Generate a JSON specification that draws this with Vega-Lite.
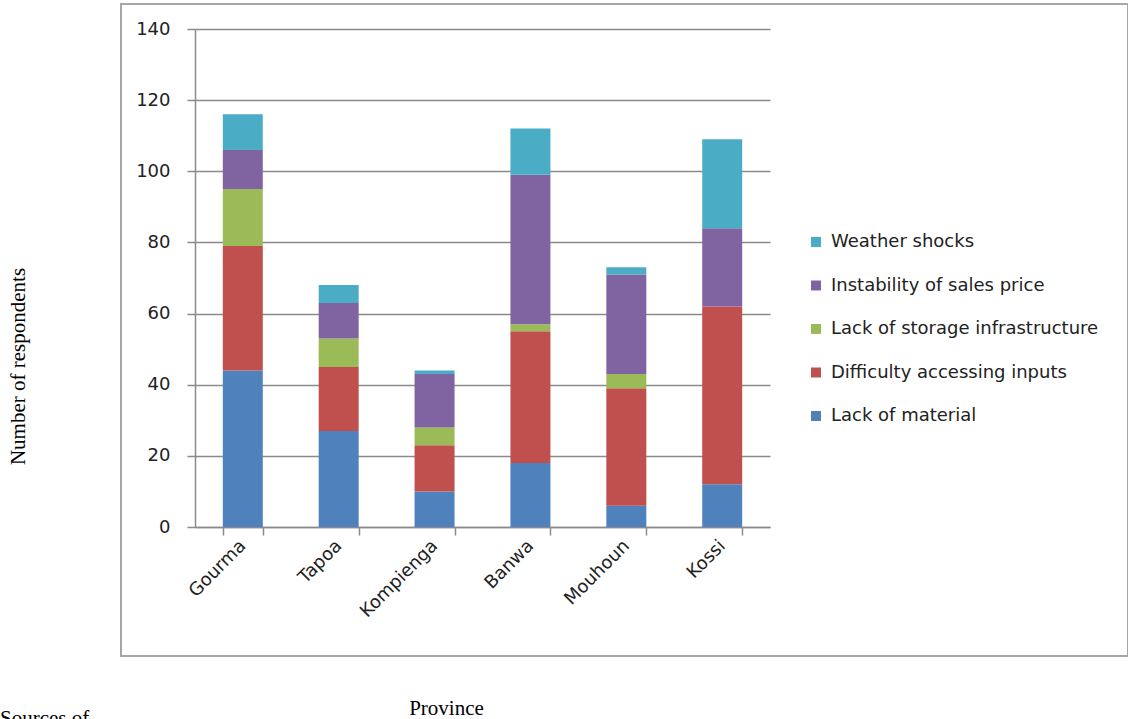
{
  "$schema": "https://vega.github.io/schema/vega-lite/v6.json",
  "autosize": {"type": "none"},
  "width": 1007,
  "height": 652,
  "padding": {"left": 121, "top": 4, "right": 0, "bottom": 63},
  "background": "white",
  "config": {
    "view": {"stroke": "#a6a6a6", "strokeWidth": 2},
    "font": "DejaVu Sans"
  },
  "title": {
    "text": "Sources of",
    "orient": "bottom",
    "anchor": "start",
    "frame": "group",
    "dx": -121,
    "offset": -10,
    "baseline": "top",
    "font": "Liberation Serif",
    "fontSize": 21,
    "fontWeight": "normal",
    "color": "#000"
  },
  "data": {
    "values": [
      {"Province": "Gourma", "Constraint": "Lack of material", "Level": 1, "Count": 44},
      {"Province": "Gourma", "Constraint": "Difficulty accessing inputs", "Level": 2, "Count": 35},
      {"Province": "Gourma", "Constraint": "Lack of storage infrastructure", "Level": 3, "Count": 16},
      {"Province": "Gourma", "Constraint": "Instability of sales price", "Level": 4, "Count": 11},
      {"Province": "Gourma", "Constraint": "Weather shocks", "Level": 5, "Count": 10},
      {"Province": "Tapoa", "Constraint": "Lack of material", "Level": 1, "Count": 27},
      {"Province": "Tapoa", "Constraint": "Difficulty accessing inputs", "Level": 2, "Count": 18},
      {"Province": "Tapoa", "Constraint": "Lack of storage infrastructure", "Level": 3, "Count": 8},
      {"Province": "Tapoa", "Constraint": "Instability of sales price", "Level": 4, "Count": 10},
      {"Province": "Tapoa", "Constraint": "Weather shocks", "Level": 5, "Count": 5},
      {"Province": "Kompienga", "Constraint": "Lack of material", "Level": 1, "Count": 10},
      {"Province": "Kompienga", "Constraint": "Difficulty accessing inputs", "Level": 2, "Count": 13},
      {"Province": "Kompienga", "Constraint": "Lack of storage infrastructure", "Level": 3, "Count": 5},
      {"Province": "Kompienga", "Constraint": "Instability of sales price", "Level": 4, "Count": 15},
      {"Province": "Kompienga", "Constraint": "Weather shocks", "Level": 5, "Count": 1},
      {"Province": "Banwa", "Constraint": "Lack of material", "Level": 1, "Count": 18},
      {"Province": "Banwa", "Constraint": "Difficulty accessing inputs", "Level": 2, "Count": 37},
      {"Province": "Banwa", "Constraint": "Lack of storage infrastructure", "Level": 3, "Count": 2},
      {"Province": "Banwa", "Constraint": "Instability of sales price", "Level": 4, "Count": 42},
      {"Province": "Banwa", "Constraint": "Weather shocks", "Level": 5, "Count": 13},
      {"Province": "Mouhoun", "Constraint": "Lack of material", "Level": 1, "Count": 6},
      {"Province": "Mouhoun", "Constraint": "Difficulty accessing inputs", "Level": 2, "Count": 33},
      {"Province": "Mouhoun", "Constraint": "Lack of storage infrastructure", "Level": 3, "Count": 4},
      {"Province": "Mouhoun", "Constraint": "Instability of sales price", "Level": 4, "Count": 28},
      {"Province": "Mouhoun", "Constraint": "Weather shocks", "Level": 5, "Count": 2},
      {"Province": "Kossi", "Constraint": "Lack of material", "Level": 1, "Count": 12},
      {"Province": "Kossi", "Constraint": "Difficulty accessing inputs", "Level": 2, "Count": 50},
      {"Province": "Kossi", "Constraint": "Lack of storage infrastructure", "Level": 3, "Count": 0},
      {"Province": "Kossi", "Constraint": "Instability of sales price", "Level": 4, "Count": 22},
      {"Province": "Kossi", "Constraint": "Weather shocks", "Level": 5, "Count": 25}
    ]
  },
  "mark": {"type": "bar"},
  "encoding": {
    "x": {
      "field": "Province",
      "type": "nominal",
      "sort": ["Gourma", "Tapoa", "Kompienga", "Banwa", "Mouhoun", "Kossi"],
      "scale": {"range": [74, 649], "paddingInner": 0.583, "paddingOuter": 0.29},
      "axis": {
        "orient": "bottom",
        "offset": -129,
        "title": "Province",
        "labelAngle": -45,
        "labelAlign": "right",
        "labelBaseline": "middle",
        "labelFontSize": 18,
        "labelColor": "#222",
        "labelPadding": 8,
        "tickBand": "extent",
        "tickSize": 8,
        "tickColor": "#8a8a8a",
        "tickWidth": 1.5,
        "domainColor": "#8a8a8a",
        "domainWidth": 1.5,
        "titleFont": "Liberation Serif",
        "titleFontWeight": "normal",
        "titleFontSize": 21,
        "titleColor": "#000",
        "titleBaseline": "alphabetic",
        "titleAlign": "center",
        "titleX": 325,
        "titleY": 187
      }
    },
    "y": {
      "field": "Count",
      "type": "quantitative",
      "stack": "zero",
      "scale": {"domain": [0, 140], "range": [523, 25], "nice": false},
      "axis": {
        "orient": "left",
        "offset": -74,
        "values": [0, 20, 40, 60, 80, 100, 120, 140],
        "grid": true,
        "gridColor": "#8a8a8a",
        "gridWidth": 1.5,
        "domainColor": "#8a8a8a",
        "domainWidth": 1.5,
        "tickColor": "#8a8a8a",
        "tickWidth": 1.5,
        "tickSize": 8,
        "labelFontSize": 18,
        "labelColor": "#222",
        "labelPadding": 17,
        "title": "Number of respondents",
        "titleFont": "Liberation Serif",
        "titleFontWeight": "normal",
        "titleFontSize": 21,
        "titleColor": "#000",
        "titleAngle": 270,
        "titleAlign": "center",
        "titleBaseline": "alphabetic",
        "titleX": -171,
        "titleY": 362
      }
    },
    "order": {"field": "Level", "type": "quantitative", "sort": "ascending"},
    "color": {
      "field": "Constraint",
      "type": "nominal",
      "scale": {
        "domain": ["Lack of material", "Difficulty accessing inputs", "Lack of storage infrastructure", "Instability of sales price", "Weather shocks"],
        "range": ["#4F81BD", "#C0504D", "#9BBB59", "#8064A2", "#4BACC6"]
      },
      "legend": {
        "title": null,
        "orient": "none",
        "legendX": 686,
        "legendY": 229,
        "padding": 0,
        "values": ["Weather shocks", "Instability of sales price", "Lack of storage infrastructure", "Difficulty accessing inputs", "Lack of material"],
        "symbolType": "square",
        "symbolSize": 100,
        "symbolStrokeWidth": 0,
        "labelFontSize": 18,
        "labelColor": "#222",
        "labelOffset": 6,
        "labelLimit": 400,
        "rowPadding": 25.5
      }
    }
  }
}
